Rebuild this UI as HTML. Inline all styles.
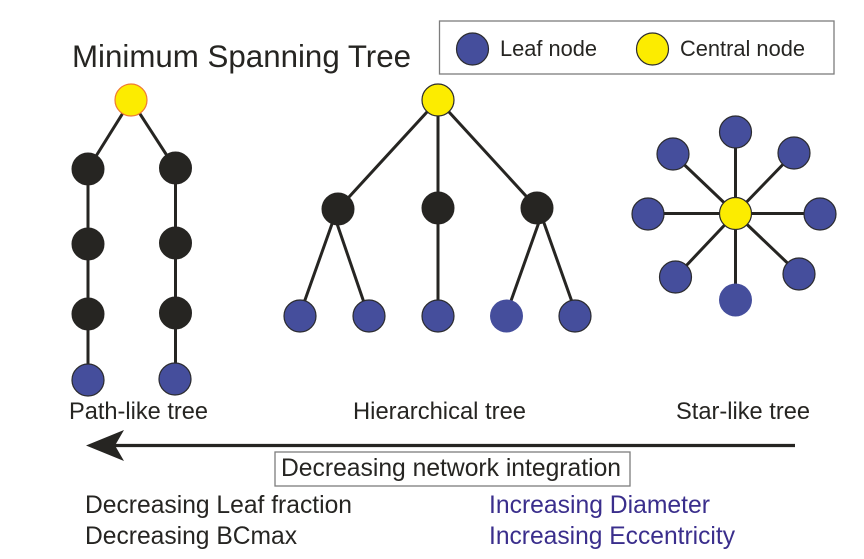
<!DOCTYPE html>
<html>
<head>
<meta charset="utf-8">
<style>
html,body{margin:0;padding:0;background:#fff;width:864px;height:559px;overflow:hidden}
svg{display:block;filter:blur(0.35px)}
text{font-family:"Liberation Sans",Arial,sans-serif;fill:#262522}
.e line{stroke:#262522;stroke-width:3}
.k circle{fill:#262522;stroke:#262522;stroke-width:1}
.b circle{fill:#454e9c;stroke:#2b2b2e;stroke-width:1.2}
.n circle{fill:#454e9c}
.y{fill:#fcec00;stroke:#2b2b2e;stroke-width:1.2}
</style>
</head>
<body>
<svg width="864" height="559" viewBox="0 0 864 559" xmlns="http://www.w3.org/2000/svg">
<rect width="864" height="559" fill="#fff"/>

<g class="e">
<line x1="131" y1="100" x2="88" y2="169"/>
<line x1="131" y1="100" x2="175" y2="168"/>
<line x1="88" y1="169" x2="88" y2="380"/>
<line x1="175.500" y1="168" x2="175.500" y2="379"/>

<line x1="438" y1="100" x2="338" y2="209"/>
<line x1="438" y1="100" x2="438" y2="316"/>
<line x1="438" y1="100" x2="537" y2="208"/>
<line x1="337.300" y1="209" x2="299.300" y2="316"/>
<line x1="332" y1="209" x2="368.600" y2="316"/>
<line x1="544" y1="208" x2="505.600" y2="316"/>
<line x1="538.700" y1="208" x2="577" y2="316"/>

<line x1="735.500" y1="213.500" x2="735.500" y2="132"/>
<line x1="735.500" y1="213.500" x2="673" y2="154"/>
<line x1="735.500" y1="213.500" x2="794" y2="153"/>
<line x1="735.500" y1="213.500" x2="648" y2="213.500"/>
<line x1="735.500" y1="213.500" x2="820" y2="213.500"/>
<line x1="735.500" y1="213.500" x2="675.500" y2="277"/>
<line x1="735.500" y1="213.500" x2="799" y2="274"/>
<line x1="735.500" y1="213.500" x2="735.500" y2="300"/>
</g>

<g class="k">
<circle cx="88" cy="169" r="16"/><circle cx="88" cy="244" r="16"/><circle cx="88" cy="314" r="16"/>
<circle cx="175.500" cy="168" r="16"/><circle cx="175.500" cy="243" r="16"/><circle cx="175.500" cy="313" r="16"/>
<circle cx="338" cy="209" r="16"/><circle cx="438" cy="208" r="16"/><circle cx="537" cy="208" r="16"/>
</g>

<g class="b">
<circle cx="88" cy="380" r="16"/><circle cx="175" cy="379" r="16"/>
<circle cx="300" cy="316" r="16"/><circle cx="369" cy="316" r="16"/><circle cx="438" cy="316" r="16"/><circle cx="575" cy="316" r="16"/>
<circle cx="735.500" cy="132" r="16"/><circle cx="673" cy="154" r="16"/><circle cx="794" cy="153" r="16"/>
<circle cx="648" cy="214" r="16"/><circle cx="820" cy="214" r="16"/>
<circle cx="675.500" cy="277" r="16"/><circle cx="799" cy="274" r="16"/>
<circle cx="472.500" cy="49" r="16"/>
</g>
<g class="n">
<circle cx="506.500" cy="316" r="16.500"/><circle cx="735.500" cy="300" r="16.500"/>
</g>

<circle cx="131" cy="100" r="16" fill="#fcec00" stroke="#ef7a35" stroke-width="1.200"/>
<circle class="y" cx="438" cy="100" r="16"/>
<circle class="y" cx="735.500" cy="213.500" r="16"/>
<circle class="y" cx="652.500" cy="49" r="16"/>

<rect x="439.500" y="21" width="394.500" height="53" fill="none" stroke="#7d7d7d" stroke-width="1.300"/>
<text x="500" y="56" font-size="21.800" textLength="97" lengthAdjust="spacingAndGlyphs">Leaf node</text>
<text x="680" y="56" font-size="21.800" textLength="125" lengthAdjust="spacingAndGlyphs">Central node</text>

<text x="72" y="67" font-size="31.700" textLength="339" lengthAdjust="spacingAndGlyphs">Minimum Spanning Tree</text>

<text x="69" y="419" font-size="23.600" textLength="139" lengthAdjust="spacingAndGlyphs">Path-like tree</text>
<text x="353" y="419" font-size="23.700" textLength="173" lengthAdjust="spacingAndGlyphs">Hierarchical tree</text>
<text x="676" y="419" font-size="23.600" textLength="134" lengthAdjust="spacingAndGlyphs">Star-like tree</text>

<line x1="115" y1="445.500" x2="795" y2="445.500" stroke="#262522" stroke-width="3.200"/>
<polygon points="86,445.500 124,430 115,445.500 124,461" fill="#262522"/>

<rect x="275" y="452" width="355" height="34" fill="#fff" stroke="#7d7d7d" stroke-width="1.300"/>
<text x="281" y="476" font-size="24.600" textLength="340" lengthAdjust="spacingAndGlyphs">Decreasing network integration</text>

<text x="85" y="513" font-size="24.600" textLength="267" lengthAdjust="spacingAndGlyphs">Decreasing Leaf fraction</text>
<text x="85" y="544" font-size="24.600" textLength="212" lengthAdjust="spacingAndGlyphs">Decreasing BCmax</text>
<text x="489" y="513" font-size="24.600" textLength="221" lengthAdjust="spacingAndGlyphs" style="fill:#3a2e8c">Increasing Diameter</text>
<text x="489" y="544" font-size="24.600" textLength="246" lengthAdjust="spacingAndGlyphs" style="fill:#3a2e8c">Increasing Eccentricity</text>
</svg>
</body>
</html>
